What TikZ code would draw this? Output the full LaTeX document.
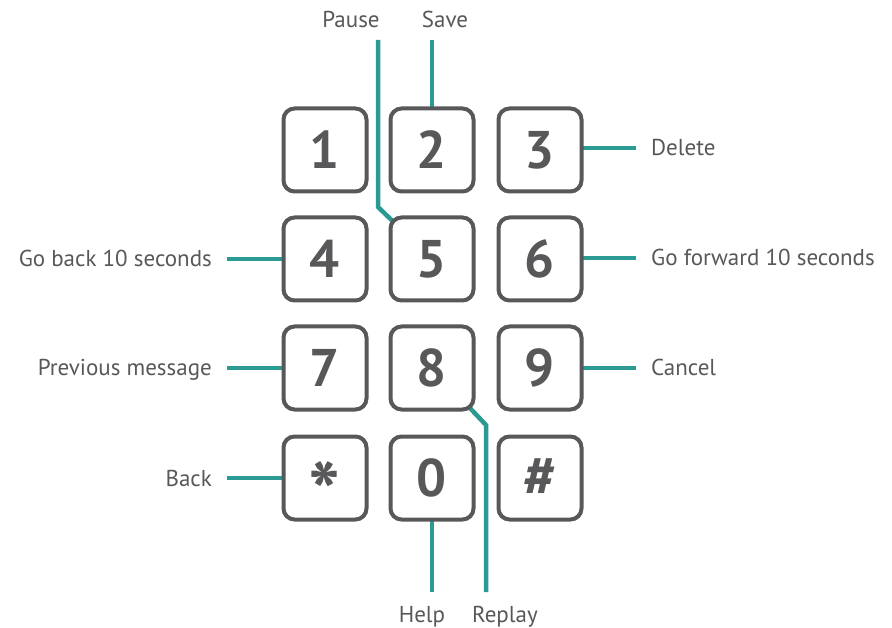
\documentclass[tikz,border=0pt]{standalone}
\usepackage{fontspec}
\setmainfont{PT Sans}
\usetikzlibrary{backgrounds}
\definecolor{keygrey}{HTML}{58585A}
\definecolor{padteal}{HTML}{2A9A92}
\begin{document}
\begin{tikzpicture}[x=1pt,y=-1pt,
    key/.style={draw=keygrey,fill=white,line width=4pt,rounded corners=11pt,
      minimum size=83pt,inner sep=0pt,text=keygrey,
      font=\fontsize{53}{53}\selectfont\bfseries},
    lbl/.style={text=keygrey,inner sep=0pt,text height=16pt,text depth=0pt,
      font=\fontsize{23}{26}\selectfont},
    link/.style={draw=padteal,line width=4.5pt}]
  \useasboundingbox (0,0) rectangle (892,628);
  % keypad
  \node[key] (k1) at (325,150) {1};
  \node[key] (k2) at (432,150) {2};
  \node[key] (k3) at (540,150) {3};
  \node[key] (k4) at (325,259) {4};
  \node[key] (k5) at (432,259) {5};
  \node[key] (k6) at (540,259) {6};
  \node[key] (k7) at (325,368) {7};
  \node[key] (k8) at (432,368) {8};
  \node[key] (k9) at (540,368) {9};
  \node[key,text height=37pt,text depth=0pt] (kstar) at (325,478)
    {\smash{\raisebox{-27pt}{\scalebox{1.6}{*}}}};
  \node[key] (k0) at (432,478) {0};
  \node[key] (khash) at (540,478) {\scalebox{1.1}{\#}};
  % labels
  \node[lbl] (pause) at (351,20) {Pause};
  \node[lbl] (save) at (445,20) {Save};
  \node[lbl] (help) at (422,614) {Help};
  \node[lbl] (replay) at (505,614) {Replay};
  \node[lbl,anchor=east] (goback) at (212,259) {Go back 10 seconds};
  \node[lbl,anchor=east] (prevmsg) at (212,368) {Previous message};
  \node[lbl,anchor=east] (back) at (212,478) {Back};
  \node[lbl,anchor=west] (delete) at (651,148) {Delete};
  \node[lbl,anchor=west] (gofwd) at (651,258) {Go forward 10 seconds};
  \node[lbl,anchor=west] (cancel) at (651,368) {Cancel};
  \coordinate (pausetop) at (378,40);
  \coordinate (pausebend) at (378,207);
  \coordinate (savetop) at (432,40);
  \coordinate (helpend) at (432,592);
  \coordinate (replaybend) at (486,425);
  \coordinate (replayend) at (486,592);
  % links
  \begin{scope}[on background layer]
    \draw[link] (pausetop) -- (pausebend) -- (k5.center);
    \draw[link] (savetop) -- (k2.center);
    \draw[link] (helpend) -- (k0.center);
    \draw[link] (replayend) -- (replaybend) -- (k8.center);
    \draw[link] ([xshift=15pt]goback.east) -- (k4.center);
    \draw[link] ([xshift=15pt]prevmsg.east) -- (k7.center);
    \draw[link] ([xshift=15pt]back.east) -- (kstar.center);
    \draw[link] ([xshift=-15pt]delete.west) -- (delete.west -| k3.center);
    \draw[link] ([xshift=-15pt]gofwd.west) -- (gofwd.west -| k6.center);
    \draw[link] ([xshift=-15pt]cancel.west) -- (k9.center);
  \end{scope}
\end{tikzpicture}
\end{document}
